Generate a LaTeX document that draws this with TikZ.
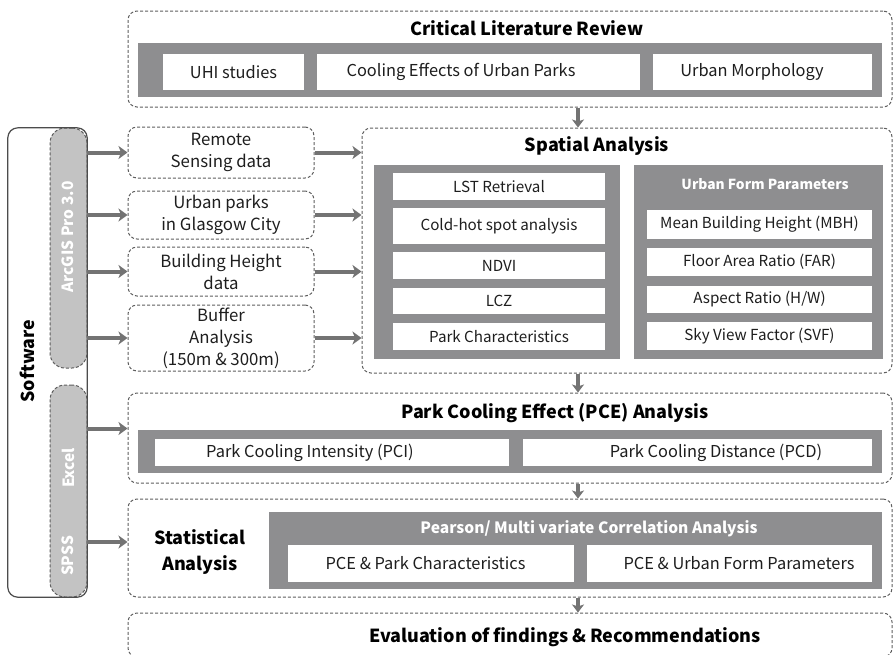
\documentclass[tikz,border=0pt]{standalone}
\usepackage{fontspec}
\setmainfont{Noto Sans CJK SC}
\usetikzlibrary{arrows.meta}
\definecolor{dg}{HTML}{5E5E5E}
\definecolor{pg}{HTML}{8E8E90}
\definecolor{ag}{HTML}{737373}
\definecolor{sg}{HTML}{C3C3C3}
\definecolor{tx}{HTML}{1E1E1E}
\newcommand\bx[7]{\node[#1,minimum width={#5-#3},minimum height={#6-#4}] (#2) at ({(#3+#5)/2},{(#4+#6)/2}) {#7};}
\newcommand\sh[2]{\hspace*{#1}#2}
\begin{document}
\begin{tikzpicture}[x=1pt,y=-1pt,
  dbox/.style={draw=dg,line width=1pt,dash pattern=on 3pt off 2pt,rounded corners=9pt,inner sep=0pt},
  gp/.style={fill=pg,inner sep=0pt},
  wb/.style={fill=white,inner sep=0pt,text=tx,font=\fontsize{16.4}{20}\selectfont},
  lb/.style={fill=white,inner sep=0pt,text=tx,font=\fontsize{15.2}{20}\selectfont},
  dtxt/.style={text=tx,align=center,font=\fontsize{16.8}{22}\selectfont},
  ttl/.style={text=black,font=\fontsize{18}{26}\bfseries\selectfont,inner sep=0pt,align=center},
  wttl/.style={text=white,font=\fontsize{14}{18}\bfseries\selectfont,inner sep=0pt},
  pill/.style={fill=sg,draw=dg,line width=1pt,dash pattern=on 3pt off 2pt,rounded corners=15pt,inner sep=0pt},
  ptxt/.style={text=white,rotate=90,font=\fontsize{15.5}{18}\bfseries\selectfont,inner sep=0pt},
  arr/.style={draw=ag,line width=4pt,-{Stealth[length=9pt,width=13pt,inset=2.5pt]}},
  darr/.style={draw=ag,line width=3.5pt,-{Stealth[length=8pt,width=12pt,inset=2pt]}}
]
\useasboundingbox (0,0) rectangle (893,654);

% ---- Software column
\bx{fill=white,inner sep=0pt}{sw}{8}{128}{87}{597}{}
\bx{pill}{arc}{50}{128}{87}{368}{}
\bx{pill}{exs}{50}{385}{87}{597}{}
\draw[draw=black!70,line width=1.2pt,rounded corners=10pt] (sw.north west) rectangle (sw.south east);
\node[ptxt] (arct) at (68,237) {ArcGIS Pro 3.0};
\node[ptxt] (exct) at (68,468) {Excel};
\node[ptxt] (spst) at (68,556) {SPSS};
\node[text=black,rotate=90,font=\fontsize{17.8}{22}\bfseries\selectfont,inner sep=0pt] (swt) at (27,361) {Software};

% ---- Critical Literature Review
\bx{dbox}{crit}{128}{11}{892}{107}{}
\node[ttl] (critt) at (527,28) {Critical Literature Review};
\bx{gp}{critp}{138}{43}{882}{97}{}
\bx{wb}{uhi}{163}{54}{304}{90}{UHI studies}
\bx{wb}{cool}{317}{54}{640}{90}{\sh{-35pt}{Cooling Effects of Urban Parks}}
\bx{wb}{um}{653}{54}{872}{90}{\sh{-21pt}{Urban Morphology}}

% ---- data boxes
\bx{dbox,dtxt}{rs}{128}{127}{314}{178}{Remote\\Sensing data}
\bx{dbox,dtxt}{ugc}{128}{191}{314}{239}{Urban parks\\in Glasgow City}
\bx{dbox,dtxt}{bh}{128}{247}{314}{296}{Building Height\\data}
\bx{dbox,dtxt}{buf}{128}{305}{314}{371}{Buffer\\Analysis\\(150m \& 300m)}

% ---- Spatial Analysis
\bx{dbox}{spa}{362}{128}{892}{373}{}
\node[ttl] (spat) at (597,146) {Spatial Analysis};
\bx{gp}{lp}{374}{165}{620}{359}{}
\bx{lb}{lst}{393}{173}{605}{200}{LST Retrieval}
\bx{lb}{chs}{393}{208}{605}{244}{Cold-hot spot analysis}
\bx{lb}{ndvi}{393}{252}{605}{279}{NDVI}
\bx{lb}{lcz}{393}{288}{605}{314}{LCZ}
\bx{lb}{pch}{393}{323}{605}{350}{Park Characteristics}
\bx{gp}{rp}{634}{165}{883}{359}{}
\node[wttl,font=\fontsize{13.8}{16}\bfseries\selectfont] (rpt) at (765,184) {Urban Form Parameters};
\bx{lb}{mbh}{647}{210}{872}{239}{Mean Building Height (MBH)}
\bx{lb}{far}{647}{248}{872}{276}{Floor Area Ratio (FAR)}
\bx{lb}{ar}{647}{286}{872}{313}{Aspect Ratio (H/W)}
\bx{lb}{svf}{647}{322}{872}{350}{Sky View Factor (SVF)}

% ---- PCE
\bx{dbox}{pce}{128}{393}{892}{483}{}
\node[ttl] (pcet) at (555,413) {Park Cooling Effect (PCE) Analysis};
\bx{gp}{pcep}{138}{430}{882}{473}{}
\bx{wb}{pci}{155}{439}{509}{466}{\sh{-44pt}{Park Cooling Intensity (PCI)}}
\bx{wb}{pcd}{523}{439}{872}{466}{\sh{37pt}{Park Cooling Distance (PCD)}}

% ---- Statistical
\bx{dbox}{st}{128}{499}{892}{597}{}
\node[ttl] (stt) at (200,552) {Statistical\\Analysis};
\bx{gp}{stp}{269}{512}{882}{589}{}
\node[wttl,font=\fontsize{15.6}{18}\bfseries\selectfont] (stpt) at (589,529) {Pearson/ Multi variate Correlation Analysis};
\bx{wb}{pcpc}{288}{545}{574}{582}{\sh{-11pt}{PCE \& Park Characteristics}}
\bx{wb}{pcuf}{587}{545}{872}{582}{\sh{19pt}{PCE \& Urban Form Parameters}}

% ---- Evaluation
\bx{dbox}{ev}{128}{613}{892}{657}{}
\node[ttl] (evt) at (565,637) {Evaluation of findings \& Recommendations};

% ---- connectors
\coordinate (ax) at (578,0);
\coordinate (pcein) at ([yshift=9.5pt]pce.west);
\coordinate (stin) at ([yshift=6pt]st.west);
\draw[darr] (crit.south -| ax) -- (spa.north -| ax);
\draw[darr] (spa.south -| ax) -- (pce.north -| ax);
\draw[darr] (pce.south -| ax) -- (st.north -| ax);
\draw[darr] (st.south -| ax) -- (ev.north -| ax);

\draw[arr] (sw.east |- rs.west) -- (rs.west);
\draw[arr] (sw.east |- ugc.west) -- (ugc.west);
\draw[arr] (sw.east |- bh.west) -- (bh.west);
\draw[arr] (sw.east |- buf.west) -- (buf.west);
\draw[arr] (sw.east |- pcein) -- (pcein);
\draw[arr] (sw.east |- stin) -- (stin);

\draw[arr] (rs.east) -- (rs.east -| spa.west);
\draw[arr] (ugc.east) -- (ugc.east -| spa.west);
\draw[arr] (bh.east) -- (bh.east -| spa.west);
\draw[arr] (buf.east) -- (buf.east -| spa.west);
\end{tikzpicture}
\end{document}
